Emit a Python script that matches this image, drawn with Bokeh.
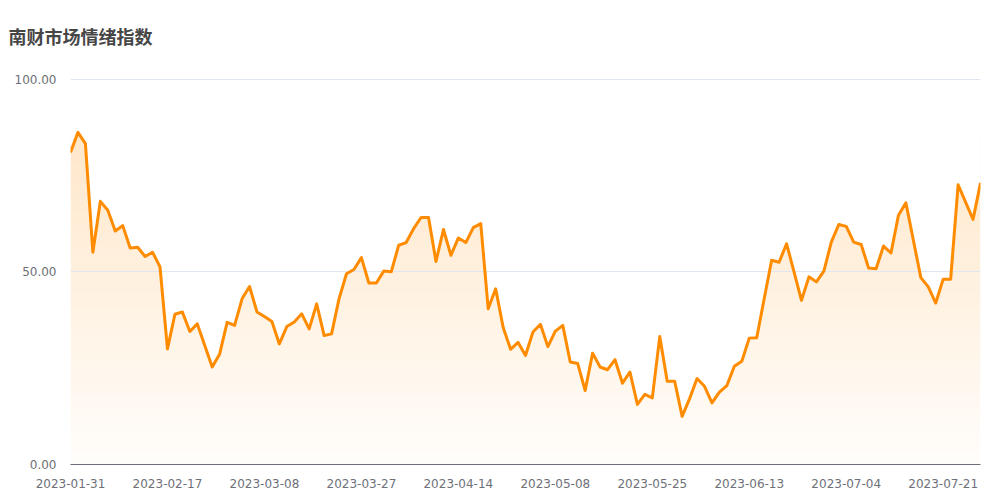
import numpy as np
from bokeh.plotting import figure
from bokeh.models import Range1d, FixedTicker, PrintfTickFormatter, ColumnDataSource
from bokeh.embed import file_html
from bokeh.resources import INLINE

title_text = "南财市场情绪指数"

tick_labels = ["2023-01-31", "2023-02-17", "2023-03-08", "2023-03-27", "2023-04-14",
               "2023-05-08", "2023-05-25", "2023-06-13", "2023-07-04", "2023-07-21"]
tick_step = 13

values = [
    81.0, 86.2, 83.3, 55.1, 68.3, 66.0, 60.6, 62.0, 56.2, 56.4,
    54.0, 55.1, 51.3, 30.0, 39.0, 39.6, 34.5, 36.5, 30.9, 25.3,
    28.7, 36.9, 36.1, 43.0, 46.2, 39.6, 38.4, 37.1, 31.3, 35.8,
    37.0, 39.1, 35.2, 41.7, 33.5, 33.9, 43.0, 49.5, 50.6, 53.7,
    47.1, 47.1, 50.2, 50.0, 56.9, 57.6, 61.2, 64.1, 64.1, 52.7,
    61.0, 54.3, 58.8, 57.6, 61.5, 62.5, 40.4, 45.6, 35.6, 29.9,
    31.7, 28.3, 34.4, 36.4, 30.6, 34.6, 36.1, 26.6, 26.2, 19.2,
    28.9, 25.3, 24.6, 27.2, 21.1, 24.0, 15.6, 18.2, 17.3, 33.2,
    21.6, 21.6, 12.5, 17.1, 22.3, 20.3, 16.0, 18.8, 20.5, 25.5,
    26.8, 32.8, 32.9, 43.0, 53.0, 52.5, 57.3, 50.0, 42.6, 48.7,
    47.4, 50.2, 57.7, 62.3, 61.8, 57.7, 57.1, 51.0, 50.8, 56.7,
    54.9, 64.7, 67.9, 58.2, 48.5, 46.1, 41.9, 48.1, 48.1, 72.6,
    68.1, 63.6, 73.1,
]

y_ticks = [0, 50, 100]

idx = list(range(len(values)))
y_top = 102
src = ColumnDataSource(dict(x=idx, y=values, top=[y_top] * len(values)))

p = figure(width=990, height=490, output_backend="svg", toolbar_location=None,
           x_range=Range1d(0, len(values) - 1), y_range=Range1d(0, y_top),
           min_border_left=70, min_border_right=10, min_border_top=71, min_border_bottom=26)

p.title.text = title_text
p.title.text_font = "Noto Sans CJK SC"
p.title.text_font_size = "18px"
p.title.text_font_style = "bold"
p.title.text_color = "#464646"
p.title.align = "left"
p.title.vertical_align = "top"
p.title.offset = -62
p.title.standoff = 42

p.outline_line_color = None
p.background_fill_color = "white"
p.border_fill_color = "white"

# gradient fill (under curve)
n_rows = 256
vmax = max(values)
alpha = np.linspace(0.02, 0.21, n_rows)
img = np.zeros((n_rows, 2, 4), dtype=np.uint8)
img[:, :, 0] = 255
img[:, :, 1] = 140
img[:, :, 2] = 0
img[:, :, 3] = (alpha * 255).astype(np.uint8)[:, None]
img32 = img.view(dtype=np.uint32).reshape((n_rows, 2))
p.image_rgba(image=[img32], x=0, y=0, dw=len(values) - 1, dh=vmax, level="image")
# white mask above the curve
p.varea(x="x", y1="y", y2="top", source=src, fill_color="white", fill_alpha=1.0, level="image")

p.line(x="x", y="y", source=src, line_color="#ff8c00", line_width=3, line_join="round")

# axes
p.xaxis.ticker = FixedTicker(ticks=[i * tick_step for i in range(len(tick_labels))])
p.xaxis.major_label_overrides = {i * tick_step: lab for i, lab in enumerate(tick_labels)}
p.xaxis.axis_line_color = "#6E7079"
p.xaxis.major_tick_line_color = None
p.xaxis.minor_tick_line_color = None
p.xaxis.major_label_text_color = "#6E7079"
p.xaxis.major_label_text_font = "DejaVu Sans"
p.xaxis.major_label_text_font_size = "12px"
p.xaxis.major_label_standoff = 8

p.yaxis.ticker = FixedTicker(ticks=y_ticks)
p.yaxis.formatter = PrintfTickFormatter(format="%.2f")
p.yaxis.axis_line_color = None
p.yaxis.major_tick_line_color = None
p.yaxis.minor_tick_line_color = None
p.yaxis.major_label_text_color = "#6E7079"
p.yaxis.major_label_text_font = "DejaVu Sans"
p.yaxis.major_label_text_font_size = "12px"
p.yaxis.major_label_standoff = 8

p.xgrid.visible = False
p.ygrid.ticker = FixedTicker(ticks=y_ticks)
p.ygrid.grid_line_color = "#E0E6F1"

open("out.html", "w").write(file_html(p, INLINE))
